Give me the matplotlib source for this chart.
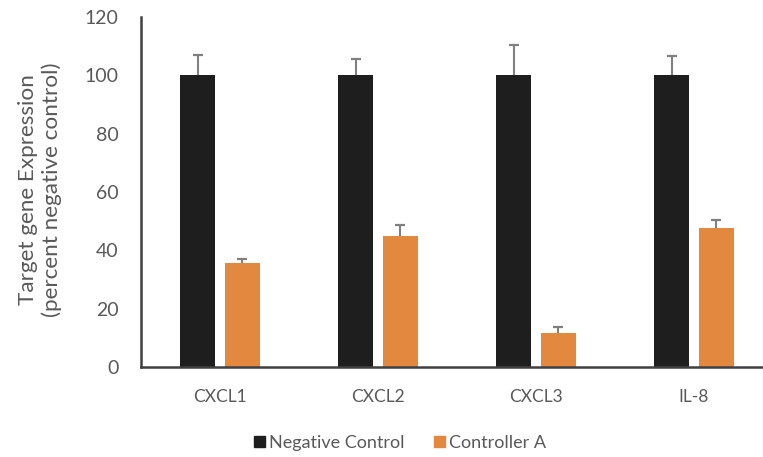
import numpy as np
import matplotlib.pyplot as plt
from matplotlib.patches import Patch

genes = ["CXCL1", "CXCL2", "CXCL3", "IL-8"]
neg_control = [100, 100, 100, 100]
neg_err = [7.0, 5.5, 10.5, 6.7]
controller_a = [35.5, 45.0, 11.7, 47.8]
ctrl_err = [1.5, 3.6, 2.0, 2.6]

plt.rcParams['font.family'] = ['Lato', 'DejaVu Sans']

fig = plt.figure(figsize=(7.63, 4.57), dpi=100)
ax = fig.add_axes([141 / 763, 1 - 367 / 457, 1 - 141 / 763, 350 / 457])

x = np.arange(len(genes))
w = 0.22
off = 0.141
grey = "#595959"
black = "#1e1e1e"
orange = "#e3883f"

ax.bar(x - off, neg_control, w, color=black, zorder=2)
ax.bar(x + off, controller_a, w, color=orange, zorder=2)

# one-sided (upper) error bars
for xs, vals, errs in [(x - off, neg_control, neg_err), (x + off, controller_a, ctrl_err)]:
    tops = np.array(vals) + np.array(errs)
    ax.vlines(xs, vals, tops, color="#808080", lw=1.5, zorder=3)
    ax.plot(xs, tops, ls="none", marker="_", ms=7.5, mew=1.6, color="#808080", zorder=3)

ax.set_xlim(-0.5, 3.437)
ax.set_ylim(0, 120)
ax.set_yticks(range(0, 121, 20))
ax.set_xticks(x)
ax.set_xticklabels(genes)

for s in ["top", "right"]:
    ax.spines[s].set_visible(False)
for s in ["left", "bottom"]:
    ax.spines[s].set_color("#404040")
    ax.spines[s].set_linewidth(1.8)

ax.tick_params(axis="y", length=0, pad=16, labelsize=14, labelcolor=grey)
ax.tick_params(axis="x", length=0, pad=16, labelsize=12.5, labelcolor=grey)

fig.text(40 / 763, 1 - 190 / 457, "Target gene Expression\n(percent negative control)",
         rotation=90, ha="center", va="center", color=grey, fontsize=16.2,
         linespacing=1.15)

handles = [Patch(color=black, label="Negative Control"),
           Patch(color=orange, label="Controller A")]
fig.legend(handles=handles, loc="center", bbox_to_anchor=(400 / 763, 1 - 443 / 457),
           ncol=2, frameon=False, fontsize=13, handlelength=0.6, handleheight=0.6,
           handletextpad=0.25, columnspacing=1.6, labelcolor=grey)

fig.savefig("out.png", dpi=100)
